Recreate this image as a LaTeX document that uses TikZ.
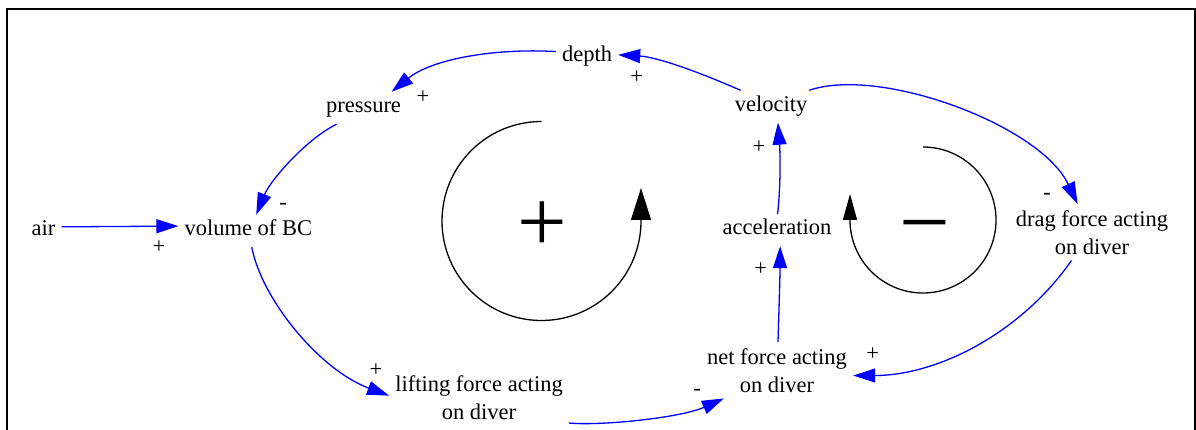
\documentclass[tikz,border=0pt]{standalone}
\usepackage{fontspec}
\setmainfont{Liberation Serif}
\newfontfamily\diagfont{Liberation Serif}
\usetikzlibrary{arrows.meta}
\begin{document}
\begin{tikzpicture}[x=1pt,y=-1pt,
  lbl/.style={font=\diagfont\fontsize{22.5}{28}\selectfont, text height=15pt, text depth=5pt, inner sep=6pt, anchor=base},
  lbltwo/.style={font=\diagfont\fontsize{22.5}{28}\selectfont, align=center, inner sep=6pt, anchor=north},
  pol/.style={font=\diagfont\fontsize{22.5}{28}\selectfont, inner sep=0pt, anchor=base},
  link/.style={draw=blue, line width=1.3pt, -{Triangle[length=22pt,width=14pt]}},
  loopline/.style={draw=black, line width=1.3pt},
  bigsign/.style={inner sep=0pt, anchor=base}]
\useasboundingbox (0,0) rectangle (1196,430);
\clip (0,0) rectangle (1196,430);
% frame
\draw[line width=2.3pt] (7,445) -- (7,9) -- (1194.8,9) -- (1194.8,445);

% variables
\node[lbl] (depth) at (587,61.5) {depth};
\node[lbl] (pressure) at (363.5,113) {pressure};
\node[lbl] (velocity) at (771,111.5) {velocity};
\node[lbl] (air) at (43.5,236) {air};
\node[lbl] (vol) at (248.3,236) {volume of BC};
\node[lbl] (accel) at (777,235) {acceleration};
\node[lbltwo] (lift) at (479,369) {lifting force acting\\on diver};
\node[lbltwo] (net) at (777,342) {net force acting\\on diver};
\node[lbltwo] (drag) at (1092,204) {drag force acting\\on diver};

% links
\draw[link] (velocity.152) .. controls (699,72) and (657,57) .. (depth.3);
\draw[link] (depth.171) .. controls (495,48) and (432,59) .. (pressure.30);
\draw[link] (pressure.211) .. controls (305,140) and (270,181) .. (vol.64);
\draw[link] (air.13) -- (vol.176);
\draw[link] (vol.-78) .. controls (262,300) and (320,370) .. (lift.179);
\draw[link] (lift.-16) .. controls (600,426) and (680,418) .. (net.208);
\draw[link] (net.88) .. controls (779,310) and (780,275) .. (accel.-79);
\draw[link] (accel.88) .. controls (781,185) and (780,150) .. (velocity.-67);
\draw[link] (velocity.23) .. controls (880,66) and (1040,125) .. (drag.117);
\draw[link] (drag.234) .. controls (1021.6,332.2) and (938.5,375.4) .. (net.-4);

% polarities
\node[pol] (p1) at (423,104) {+};
\node[pol] (p2) at (636.7,84) {+};
\node[pol] (p3) at (283,210) {-};
\node[pol] (p4) at (159,253.7) {+};
\node[pol] (p5) at (376,376.4) {+};
\node[pol] (p6) at (697,395.8) {-};
\node[pol] (p7) at (759,154) {+};
\node[pol] (p8) at (760.7,275.7) {+};
\node[pol] (p9) at (1047,200) {-};
\node[pol] (p10) at (872.7,360.7) {+};

% loop symbols
\draw[loopline, -{Triangle[length=32pt,width=20pt]}] (541.5,121.5) arc[start angle=270, end angle=0, radius=99.5] -- ++(0,-33);
\node[bigsign, font=\diagfont\fontsize{88}{88}\selectfont] (plussign) at (542,252) {+};
\draw[loopline, -{Triangle[length=26pt,width=14pt]}] (923,147) arc[start angle=270, end angle=540, radius=73] -- ++(0,-26);
\node[bigsign, font=\diagfont\fontsize{90}{90}\selectfont] (minussign) at (924.5,253) {−};
\end{tikzpicture}
\end{document}
